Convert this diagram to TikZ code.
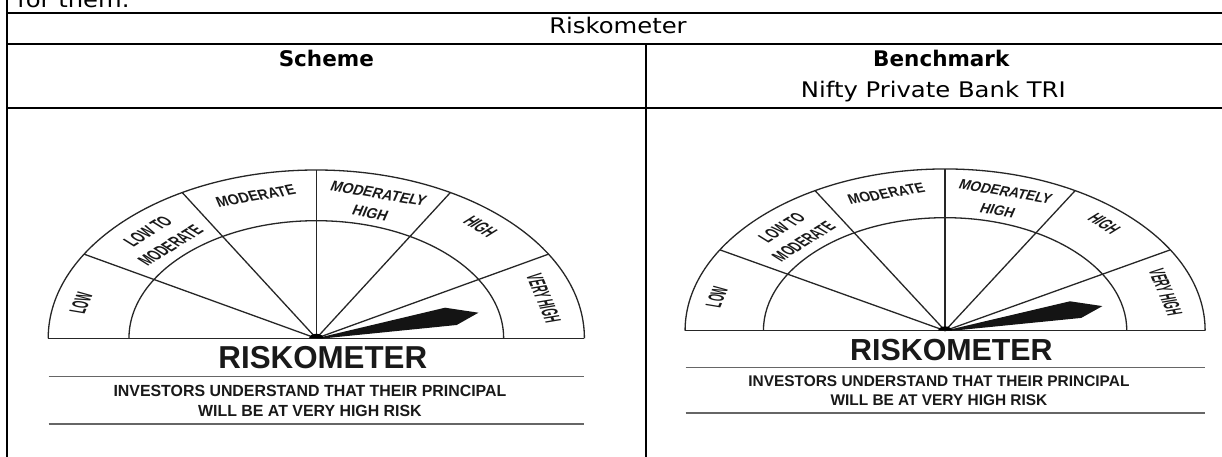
\documentclass[tikz,border=0pt]{standalone}
\usepackage{fontspec}
\newfontfamily\regf{DejaVu Sans}[FakeStretch=1.13]
\newfontfamily\bfam{DejaVu Sans}
\newfontfamily\gfont{Liberation Sans}[FakeStretch=0.62]
\tikzset{
  tline/.style={line width=2pt, black},
  gline/.style={line width=1.3pt, black!85},
  sepline/.style={line width=1.4pt, black!60},
  glabel/.style={font=\gfont\bfseries\fontsize{14.5}{20}\selectfont, inner sep=0pt, align=center, text=black!90},
  gbig/.style={font=\gfont\bfseries\fontsize{31.7}{32}\selectfont, inner sep=0pt, text=black!90},
  gsmall/.style={font=\gfont\bfseries\fontsize{16.1}{17}\selectfont, inner sep=0pt, text=black!90},
  ttext/.style={font=\regf\fontsize{21.5}{24}\selectfont, inner sep=0pt},
  tbold/.style={font=\bfam\bfseries\fontsize{21.5}{24}\selectfont, inner sep=0pt},
}
\newcommand\gaugebody[1]{%
  \draw[gline] (-168.3,0) -- (168.3,0);
  \draw[gline] (168.3,0) arc[start angle=0,end angle=180,radius=168.3];
  \draw[gline] (117.6,0) arc[start angle=0,end angle=180,radius=117.6];
  \coordinate (#1-c) at (0,0);
  \foreach \a in {30,60,90,120,150} {\coordinate (#1-d\a) at (\a:168.3); \draw[gline] (#1-c) -- (#1-d\a);}
  \fill[black!92] (#1-c) -- (80.8,30.6) -- (101.8,25.6) -- (88.1,13.3) -- (5,0) -- cycle;
  \fill[black] (-4.5,0) arc[start angle=180,end angle=0,radius=4.5] -- cycle;
  \node[glabel, rotate=75] (#1-low) at (-147.7,35) {LOW};
  \node[glabel, rotate=45] (#1-ltm) at (-98.6,100) {LOW TO\\MODERATE};
  \node[glabel, rotate=15] (#1-mod) at (-38.1,142.5) {MODERATE};
  \node[glabel, rotate=-15] (#1-mh) at (36.6,135) {MODERATELY\\HIGH};
  \node[glabel, rotate=-45] (#1-high) at (103,111.6) {HIGH};
  \node[glabel, rotate=-75] (#1-vh) at (142.7,40) {VERY HIGH};
  \node[gbig] (#1-title) at (4.1,-19.7) {RISKOMETER};
  \draw[sepline] (-168,-38.4) -- (168,-38.4);
  \node[gsmall] (#1-l1) at (-4,-52.4) {INVESTORS UNDERSTAND THAT THEIR PRINCIPAL};
  \node[gsmall] (#1-l2) at (-4,-72.7) {WILL BE AT VERY HIGH RISK};
  \draw[sepline] (-168,-85.7) -- (168,-85.7);
}
\begin{document}
\begin{tikzpicture}[x=1pt,y=1pt]
\useasboundingbox (0,0) rectangle (1222,-457);
\clip (0,0) rectangle (1222,-457);
\fill[white] (0,0) rectangle (1222,-457);
% top text (cut off)
\node[ttext, anchor=base west] (fortext) at (17,-8) {for them.};
% table lines
\draw[tline] (7.3,0) -- (7.3,-457);
\draw[tline] (6.3,-13.3) -- (1222,-13.3);
\draw[tline] (6.3,-44.3) -- (1222,-44.3);
\draw[tline] (6.3,-108.3) -- (1222,-108.3);
\draw[tline] (645.7,-44.3) -- (645.7,-457);
% table texts
\node[ttext, anchor=base] (rk) at (618,-34) {Riskometer};
\node[tbold, anchor=base] (sch) at (326.3,-67) {Scheme};
\node[tbold, anchor=base] (bm) at (941.3,-66.7) {Benchmark};
\node[ttext, anchor=base] (nifty) at (933.3,-97.7) {Nifty Private Bank TRI};
% gauges
\begin{scope}[shift={(316.3,-338.3)}, xscale=1.593, transform shape]
  \gaugebody{ga}
\end{scope}
\begin{scope}[shift={(945.1,-330.7)}, xscale=1.545, yscale=0.961, transform shape]
  \gaugebody{gb}
\end{scope}
\end{tikzpicture}
\end{document}
